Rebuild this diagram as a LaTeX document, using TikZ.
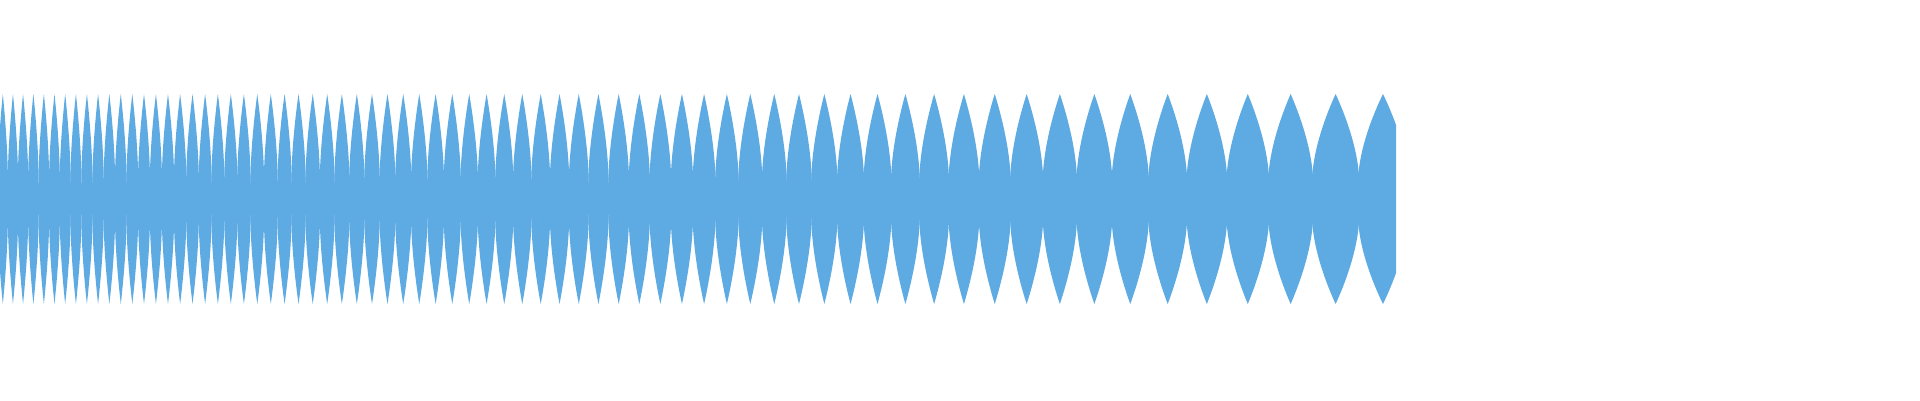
\documentclass[tikz,border=0pt]{standalone}
\definecolor{wave}{RGB}{93,171,226}
\begin{document}
\begin{tikzpicture}[x=1pt,y=-1pt,lobe/.style={fill=wave,draw=none}]
\useasboundingbox (0,0) rectangle (1920,400);
\begin{scope}
\clip (0,0) rectangle (1396,400);
\fill[wave] (0,183) rectangle (1396,215);
\foreach \n in {0,...,76}{
  \pgfmathsetmacro{\ph}{69.27-\n}
  \pgfmathsetmacro{\xc}{-870*ln(1-\ph/87)}
  \pgfmathsetmacro{\w}{5.1*exp(\xc/870)}
  \fill[lobe] (\xc-\w,184) .. controls (\xc-\w,150) and (\xc-0.35*\w,112) .. (\xc,94)
     .. controls (\xc+0.35*\w,112) and (\xc+\w,150) .. (\xc+\w,184)
     -- (\xc+\w,214) .. controls (\xc+\w,248) and (\xc+0.35*\w,286) .. (\xc,304)
     .. controls (\xc-0.35*\w,286) and (\xc-\w,248) .. (\xc-\w,214) -- cycle;
}
\end{scope}
\end{tikzpicture}
\end{document}
